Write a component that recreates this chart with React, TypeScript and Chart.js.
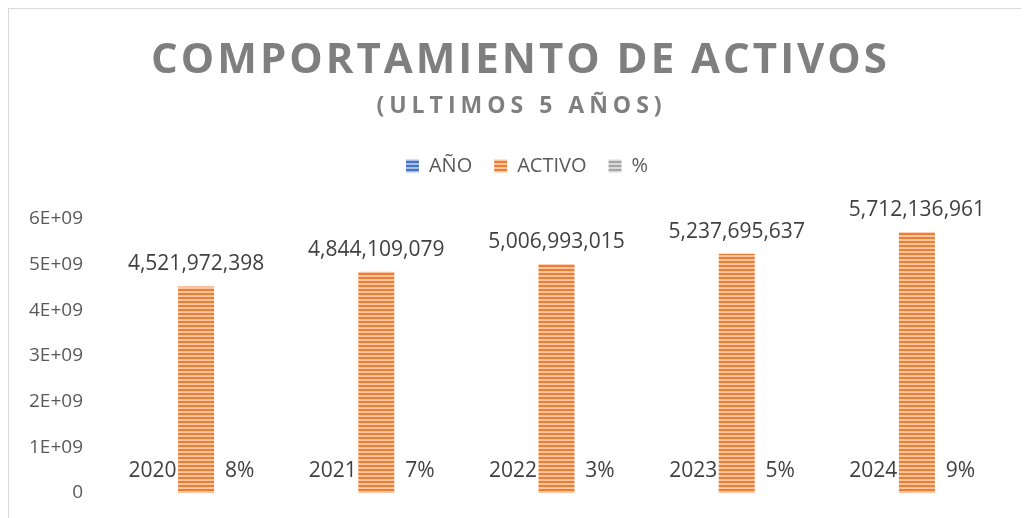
import React, { useEffect, useRef } from 'react';
import { Chart, registerables } from 'chart.js';

Chart.register(...registerables);

// ---- data ----
const categories = ['2020', '2021', '2022', '2023', '2024'];
const seriesNames = ['AÑO', 'ACTIVO', '%'];
const anioValues = [2020, 2021, 2022, 2023, 2024];
const activoValues = [4521972398, 4844109079, 5006993015, 5237695637, 5712136961];
const pctValues = [0.08, 0.07, 0.03, 0.05, 0.09];
const yMin = 0;
const yMax = 6e9;
const yStep = 1e9;
const titleText = 'COMPORTAMIENTO DE ACTIVOS';
const subtitleText = '(ULTIMOS 5 AÑOS)';

const FONT = "'Open Sans', 'Liberation Sans', sans-serif";

function stripePattern(dark: string, light: string): CanvasPattern | string {
  const c = document.createElement('canvas');
  c.width = 4;
  c.height = 4;
  const g = c.getContext('2d');
  if (!g) return dark;
  g.fillStyle = light;
  g.fillRect(0, 0, 4, 4);
  g.fillStyle = dark;
  g.fillRect(0, 0, 4, 2);
  return g.createPattern(c, 'repeat') || dark;
}

function excelExp(v: number): string {
  if (v === 0) return '0';
  const [m, e] = v.toExponential().split('e');
  const sign = e[0];
  const digits = e.slice(1).padStart(2, '0');
  return m + 'E' + sign + digits;
}

const LEGEND_SHIFT = 19;

const legendGap = {
  id: 'legendGap',
  beforeInit(chart: any) {
    const lg = chart.legend;
    if (!lg) return;
    const fit = lg.fit;
    lg.fit = function () {
      fit.call(this);
      this.height += 33;
    };
  },
  afterLayout(chart: any) {
    const lg = chart.legend;
    if (!lg) return;
    lg.left += LEGEND_SHIFT;
    lg.right += LEGEND_SHIFT;
  },
};

const titlePlugin = {
  id: 'customTitle',
  afterDraw(chart: any) {
    const ctx = chart.ctx as CanvasRenderingContext2D;
    ctx.save();
    ctx.fillStyle = '#7f7f7f';
    ctx.textAlign = 'center';
    ctx.textBaseline = 'alphabetic';
    ctx.font = `bold 42px ${FONT}`;
    (ctx as any).letterSpacing = '3px';
    ctx.fillText(titleText, chart.width / 2 + 1.5, 64);
    ctx.font = `bold 23px ${FONT}`;
    (ctx as any).letterSpacing = '5px';
    ctx.fillText(subtitleText, chart.width / 2 + 2.5, 104);
    ctx.restore();
  },
};

const labelPlugin = {
  id: 'barLabels',
  afterDatasetsDraw(chart: any) {
    const ctx = chart.ctx as CanvasRenderingContext2D;
    ctx.save();
    ctx.fillStyle = '#404040';
    ctx.textAlign = 'center';
    ctx.textBaseline = 'alphabetic';
    ctx.font = `21px ${FONT}`;
    chart.data.datasets.forEach((ds: any, di: number) => {
      const meta = chart.getDatasetMeta(di);
      meta.data.forEach((el: any, i: number) => {
        const v = ds.data[i];
        let txt = '';
        if (di === 0) txt = String(v);
        else if (di === 1) txt = v.toLocaleString('en-US');
        else txt = Math.round(v * 100) + '%';
        ctx.fillText(txt, el.x, el.y - 16);
      });
    });
    ctx.restore();
  },
};

export default function App() {
  const ref = useRef<HTMLCanvasElement | null>(null);

  useEffect(() => {
    if (!ref.current) return;
    const blue = stripePattern('#4472C4', '#A9BEE6');
    const orange = stripePattern('#ED7D31', '#F8C6A2');
    const gray = stripePattern('#A5A5A5', '#D9D9D9');
    const common = { categoryPercentage: 0.725, barPercentage: 0.8276, borderWidth: 0 };
    const chart = new Chart(ref.current, {
      type: 'bar',
      data: {
        labels: categories,
        datasets: [
          { label: seriesNames[0], data: anioValues, backgroundColor: blue as any, ...common },
          { label: seriesNames[1], data: activoValues, backgroundColor: orange as any, ...common },
          { label: seriesNames[2], data: pctValues, backgroundColor: gray as any, ...common },
        ],
      },
      options: {
        animation: false,
        responsive: false,
        maintainAspectRatio: false,
        layout: { padding: { top: 125, right: 22, bottom: 25, left: 0 } },
        plugins: {
          title: { display: false },
          tooltip: { enabled: false },
          legend: {
            display: true,
            position: 'top',
            labels: {
              boxWidth: 13,
              boxHeight: 13,
              padding: 22,
              color: '#595959',
              font: { family: FONT, size: 20 },
            },
          },
        },
        scales: {
          x: {
            display: false,
            grid: { display: false },
          },
          y: {
            min: yMin,
            max: yMax,
            grid: { display: false, drawTicks: true, tickLength: 23 },
            border: { display: false },
            ticks: {
              stepSize: yStep,
              padding: 0,
              color: '#595959',
              font: { family: FONT, size: 19 },
              callback: (v: any) => excelExp(Number(v)),
            },
            afterFit: (s: any) => {
              s.width = 97;
            },
          },
        },
      },
      plugins: [legendGap, titlePlugin, labelPlugin],
    });
    return () => chart.destroy();
  }, []);

  return (
    <div
      style={{
        width: 1021,
        height: 510,
        borderTop: '1px solid #D9D9D9',
        borderLeft: '1px solid #D9D9D9',
        boxSizing: 'border-box',
        background: '#fff',
      }}
    >
      <canvas ref={ref} width={1020} height={509} style={{ display: 'block' }} />
    </div>
  );
}
